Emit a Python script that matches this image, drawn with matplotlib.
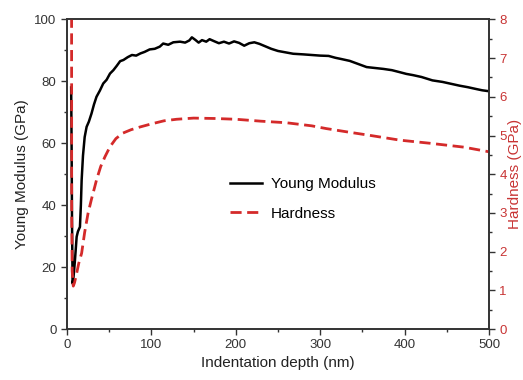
import matplotlib
matplotlib.use("Agg")
import matplotlib.pyplot as plt
from matplotlib.ticker import MultipleLocator

plt.rcParams['font.family'] = ['Liberation Sans', 'DejaVu Sans']

# indentation depth (nm) and Young modulus (GPa)
depth_E = [5, 5.5, 6, 6.7, 7.5, 8.5, 9.5, 11.5, 13, 15.4,
           16.5, 17.4, 19, 21, 23.3, 26, 29.1, 32, 35, 39,
           43, 47, 51, 55, 59, 63, 67, 72, 77, 82,
           87, 92, 98, 104, 110, 114, 120, 126, 134, 140,
           145, 148, 152, 156, 160, 165, 169, 174, 180, 186,
           192, 198, 204, 210, 216, 222, 228, 235, 242, 250,
           258, 268, 280, 290, 300, 310, 318, 325, 335, 345,
           355, 365, 375, 385, 395, 402, 410, 420, 433, 445,
           455, 465, 475, 485, 492, 500]
modulus = [78, 60, 35, 14.7, 16, 19, 22.3, 29.8, 31.5, 33,
           40, 48, 56, 62, 65.3, 67, 69.6, 72.5, 75, 77,
           79.3, 80.5, 82.5, 83.6, 85, 86.5, 86.9, 87.8, 88.5, 88.3,
           89, 89.5, 90.3, 90.5, 91.2, 92.2, 91.8, 92.6, 92.8, 92.5,
           93.2, 94.2, 93.4, 92.5, 93.3, 92.8, 93.6, 93.0, 92.3, 92.8,
           92.2, 92.9, 92.4, 91.5, 92.3, 92.6, 92.1, 91.3, 90.5, 89.8,
           89.4, 88.9, 88.7, 88.5, 88.3, 88.2, 87.6, 87.2, 86.6, 85.6,
           84.6, 84.3, 84.0, 83.6, 82.9, 82.4, 82.0, 81.4, 80.3, 79.8,
           79.2, 78.6, 78.1, 77.5, 77.1, 76.8]

# indentation depth (nm) and hardness (GPa)
depth_H = [5.5, 5.6, 6.2, 7.5, 9, 11.5, 14, 17.4, 21, 25,
           29, 33, 35, 40, 45, 51, 58, 66, 76, 86.5,
           100, 115, 130, 150, 175, 200, 230, 260, 290, 307,
           330, 360, 394.5, 430, 470, 500]
hardness = [8.5, 3.0, 1.5, 1.11, 1.2, 1.44, 1.7, 1.96, 2.5, 2.99,
            3.35, 3.68, 3.85, 4.2, 4.45, 4.71, 4.92, 5.06, 5.15, 5.22,
            5.3, 5.38, 5.42, 5.45, 5.44, 5.42, 5.37, 5.33, 5.25, 5.18,
            5.1, 5.0, 4.88, 4.8, 4.7, 4.58]

red = '#d42a2a'
red_txt = '#c83434'

fig = plt.figure(figsize=(5.23, 3.8), dpi=100)
ax = fig.add_axes([0.128, 0.134, 0.807, 0.815])
ax2 = ax.twinx()

l1, = ax.plot(depth_E, modulus, color='black', lw=1.8, label='Young Modulus')
l2, = ax2.plot(depth_H, hardness, color=red, lw=2, dashes=(4, 2), label='Hardness')

ax.set_xlim(0, 500)
ax.set_ylim(0, 100)
ax2.set_ylim(0, 8)

ax.xaxis.set_major_locator(MultipleLocator(100))
ax.xaxis.set_minor_locator(MultipleLocator(50))
ax.yaxis.set_major_locator(MultipleLocator(20))
ax.yaxis.set_minor_locator(MultipleLocator(10))
ax2.yaxis.set_major_locator(MultipleLocator(1))
ax2.yaxis.set_minor_locator(MultipleLocator(0.5))

for a in (ax, ax2):
    for s in a.spines.values():
        s.set_color('#333333')
        s.set_linewidth(1.2)
ax.tick_params(which='both', direction='out', labelsize=9.5, colors='#333333', top=False)
ax.tick_params(which='major', length=4, width=1)
ax.tick_params(which='minor', length=2.5, width=1)
ax2.tick_params(which='both', direction='out', labelsize=9.5, colors='#333333', labelcolor=red_txt)
ax2.tick_params(which='major', length=4, width=1)
ax2.tick_params(which='minor', length=2.5, width=1)

ax.set_xlabel('Indentation depth (nm)', fontsize=11, color='#222222', labelpad=3)
ax.set_ylabel('Young Modulus (GPa)', fontsize=11, color='#222222', labelpad=4)
ax2.set_ylabel('Hardness (GPa)', fontsize=11, color=red_txt, labelpad=1)

ax.legend(handles=[l1, l2], loc='center left', bbox_to_anchor=(0.368, 0.42),
          frameon=False, fontsize=11, handlelength=2.1, handletextpad=0.6,
          labelspacing=1.0, borderpad=0)

fig.savefig('out.png', dpi=100)
